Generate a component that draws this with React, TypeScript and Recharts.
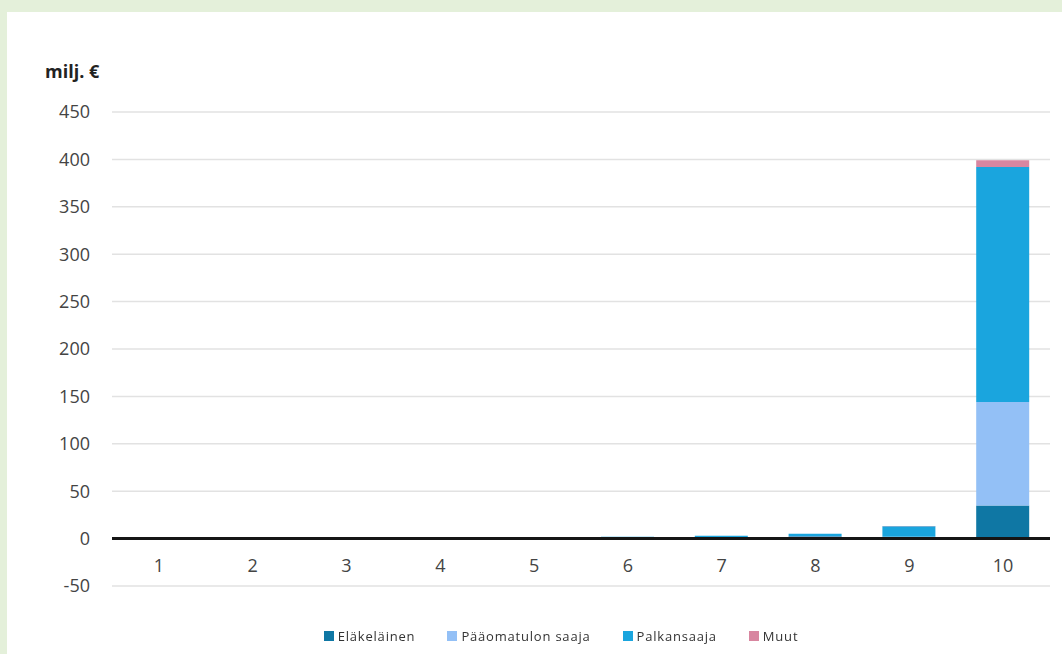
import {
  Bar,
  BarChart,
  CartesianGrid,
  ReferenceLine,
  XAxis,
  YAxis,
} from "recharts";

const deciles = ["1", "2", "3", "4", "5", "6", "7", "8", "9", "10"];
const elakelainen = [0.3, 0.4, 0.5, 0.6, 1.2, 1.5, 1.5, 2.5, 1.5, 35];
const paaomatulo = [0, 0, 0, 0, 0, 0, 0.2, 0.3, 0.5, 109];
const palkansaaja = [0, 0, 0, 0, 0.3, 0.5, 1.2, 2.2, 11, 248];
const muut = [0, 0, 0, 0, 0, 0, 0, 0, 0.2, 7];
const yTicks = [-50, 0, 50, 100, 150, 200, 250, 300, 350, 400, 450];

const series = [
  { key: "elakelainen", name: "Eläkeläinen", color: "#0f77a4" },
  { key: "paaomatulo", name: "Pääomatulon saaja", color: "#93c0f6" },
  { key: "palkansaaja", name: "Palkansaaja", color: "#1aa5de" },
  { key: "muut", name: "Muut", color: "#d886a0" },
];

const data = deciles.map((d, i) => ({
  decile: d,
  elakelainen: elakelainen[i],
  paaomatulo: paaomatulo[i],
  palkansaaja: palkansaaja[i],
  muut: muut[i],
}));

const font = "'Open Sans', sans-serif";

function XTick({ x, y, payload }: any) {
  return (
    <text x={x} y={y - 22} textAnchor="middle" fill="#444" fontSize={18} fontFamily={font}>
      {payload.value}
    </text>
  );
}

export default function App() {
  return (
    <div
      style={{
        position: "fixed",
        left: 0,
        top: 0,
        width: 1062,
        height: 654,
        background: "#e4f0da",
        fontFamily: font,
      }}
    >
      <div
        style={{
          position: "absolute",
          left: 7,
          top: 12,
          width: 1055,
          height: 642,
          background: "#fff",
        }}
      >
        <div
          style={{
            position: "absolute",
            left: 38,
            top: 47,
            fontSize: 18,
            lineHeight: "25px",
            fontWeight: 700,
            color: "#222",
          }}
        >
          milj. €
        </div>
        <BarChart
          width={1055}
          height={642}
          data={data}
          margin={{ top: 100, right: 12, left: 0, bottom: 38 }}
          barSize={53}
        >
          <CartesianGrid vertical={false} stroke="#e2e2e2" strokeWidth={1.5} />
          <XAxis
            dataKey="decile"
            axisLine={false}
            tickLine={false}
            height={30}
            tick={<XTick />}
            interval={0}
          />
          <YAxis
            width={105}
            domain={[-50, 450]}
            ticks={yTicks}
            interval={0}
            axisLine={false}
            tickLine={false}
            tickMargin={16}
            tick={{ fill: "#444", fontSize: 18, fontFamily: font }}
          />
          {series.map((s) => (
            <Bar
              key={s.key}
              dataKey={s.key}
              name={s.name}
              stackId="a"
              fill={s.color}
              isAnimationActive={false}
            />
          ))}
          <ReferenceLine y={0} stroke="#151515" strokeWidth={3} />
        </BarChart>
        <div
          style={{
            position: "absolute",
            top: 615,
            left: 0,
            width: 1108,
            display: "flex",
            justifyContent: "center",
            gap: 32,
            fontSize: 13,
            lineHeight: "18px",
            color: "#333",
            letterSpacing: 0.8,
          }}
        >
          {series.map((s) => (
            <div key={s.key} style={{ display: "flex", alignItems: "center", gap: 4 }}>
              <span style={{ width: 10, height: 10, background: s.color, display: "inline-block" }} />
              <span>{s.name}</span>
            </div>
          ))}
        </div>
      </div>
    </div>
  );
}
